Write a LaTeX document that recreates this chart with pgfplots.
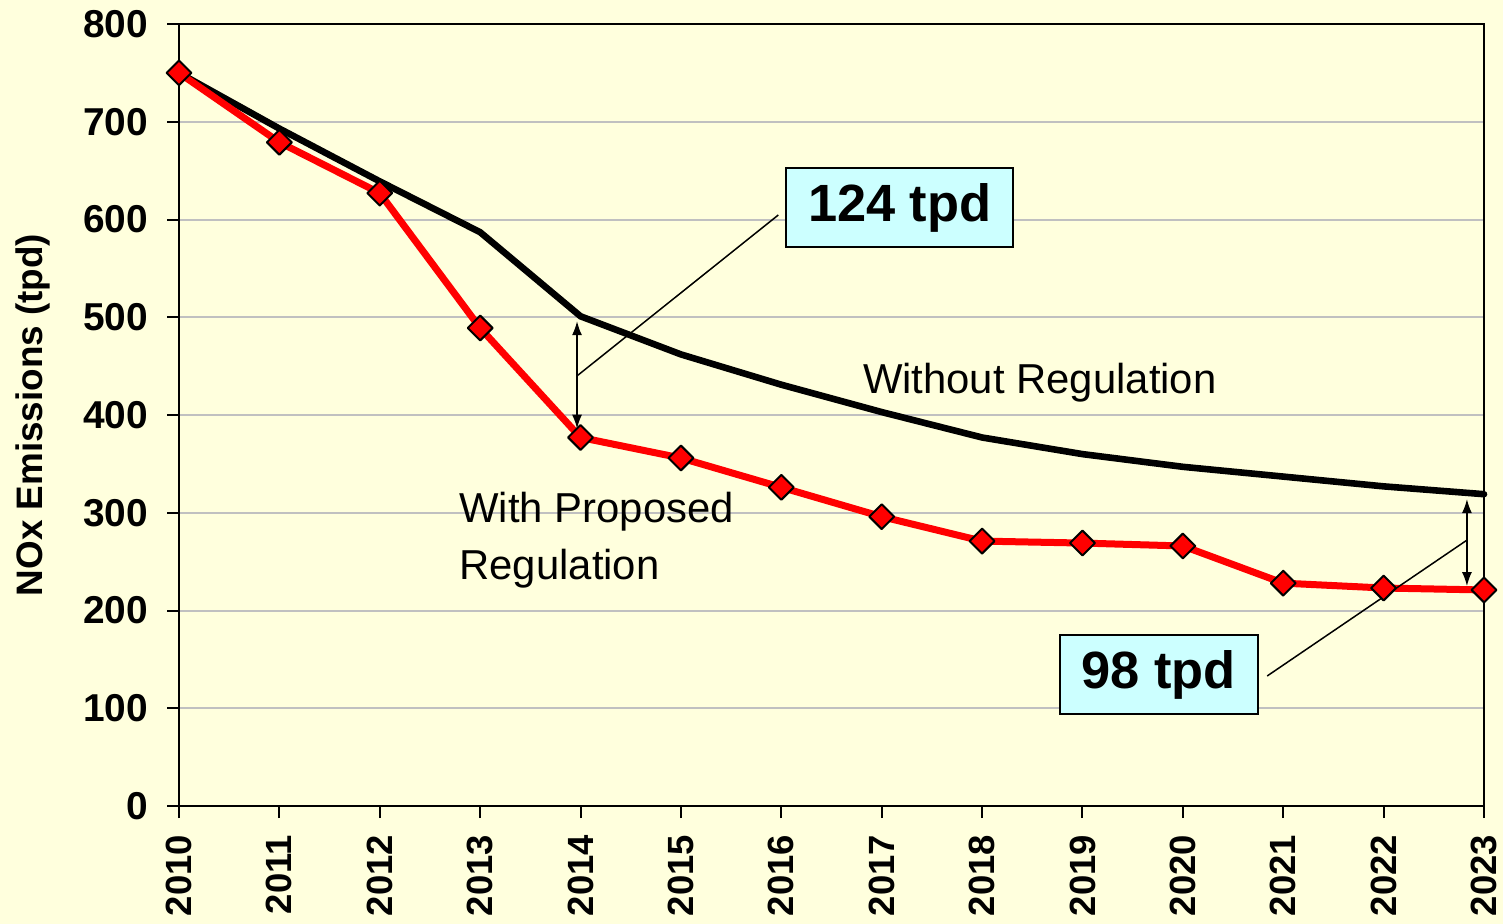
\documentclass[border=0pt]{standalone}
\usepackage{fontspec}
\setmainfont{Liberation Sans}
\usepackage{pgfplots}
\pgfplotsset{compat=1.18}
\usetikzlibrary{arrows.meta}
\definecolor{bg}{RGB}{255,255,221}
\definecolor{boxc}{RGB}{204,255,255}
\definecolor{gridc}{RGB}{192,192,192}
\begin{document}
\begin{tikzpicture}
\fill[bg] (-89.5bp,-59bp) rectangle (662bp,403bp);
\path[use as bounding box] (-89.5bp,-59bp) rectangle (662bp,403bp);
\begin{axis}[
  at={(0,0)}, anchor=south west,
  scale only axis, width=652.5bp, height=391bp,
  xmin=2010, xmax=2023, ymin=0, ymax=800,
  xtick={2010,2011,...,2023}, ytick={0,100,...,800},
  ymajorgrids, grid style={gridc, line width=1bp},
  axis line style={line width=1bp, black},
  tick style={black, line width=1bp},
  tick align=outside, major tick length=6bp,
  xtick pos=lower, ytick pos=left,
  x tick label style={rotate=90, anchor=east, xshift=-5bp, font=\fontsize{18.3}{18.3}\selectfont\bfseries},
  y tick label style={xshift=-6bp, font=\fontsize{19.5}{19.5}\selectfont\bfseries},
  /pgf/number format/1000 sep={}, /pgf/number format/assume math mode=true,
  ylabel={NOx Emissions (tpd)},
  every axis y label/.style={at={(rel axis cs:-0.112,0.5)}, rotate=90, anchor=center, font=\fontsize{18.5}{18.5}\selectfont\bfseries},
  clip=false,
]
\addplot[black, line width=3.3bp, line cap=round, line join=round, mark=none] coordinates {
(2010,750) (2011,693) (2012,639) (2013,587) (2014,501) (2015,462) (2016,431)
(2017,403) (2018,377) (2019,360) (2020,347) (2021,337) (2022,327) (2023,319)};
\addplot[red, line width=3.5bp, line join=round, mark=square*, mark size=4.4bp,
  mark options={solid, rotate=45, fill=red, draw=black, line width=1bp}] coordinates {
(2010,750) (2011,679) (2012,627) (2013,489) (2014,377) (2015,356) (2016,326)
(2017,296) (2018,271) (2019,269) (2020,266) (2021,228) (2022,223) (2023,221)};
\draw[line width=0.75bp] (axis cs:2013.965,440) -- (axis cs:2015.97,604.6);
\draw[{Latex[length=7bp,width=5bp]}-{Latex[length=7bp,width=5bp]}, line width=0.75bp] (axis cs:2013.965,496) -- (axis cs:2013.965,386);
\node[draw, fill=boxc, line width=1bp, minimum width=113.5bp, minimum height=39.5bp, inner sep=0pt,
  font=\fontsize{26.3}{26.3}\selectfont\bfseries] at (axis cs:2017.18,612.3) {\raisebox{-2bp}{124 tpd}};
\draw[line width=0.75bp] (axis cs:2020.84,133) -- (axis cs:2022.83,272);
\draw[{Latex[length=7bp,width=5bp]}-{Latex[length=7bp,width=5bp]}, line width=0.75bp] (axis cs:2022.83,314) -- (axis cs:2022.83,225);
\node[draw, fill=boxc, line width=1bp, minimum width=99bp, minimum height=39.5bp, inner sep=0pt,
  font=\fontsize{26.3}{26.3}\selectfont\bfseries] at (axis cs:2019.76,134.5) {\raisebox{-2bp}{98 tpd}};
\node[anchor=west, inner sep=0pt, font=\fontsize{21}{21}\selectfont] at (axis cs:2016.81,433) {Without Regulation};
\node[anchor=west, inner sep=0pt, align=left, font=\fontsize{21}{28.5}\selectfont] at (axis cs:2012.79,272) {With Proposed\\Regulation};
\end{axis}
\end{tikzpicture}
\end{document}
